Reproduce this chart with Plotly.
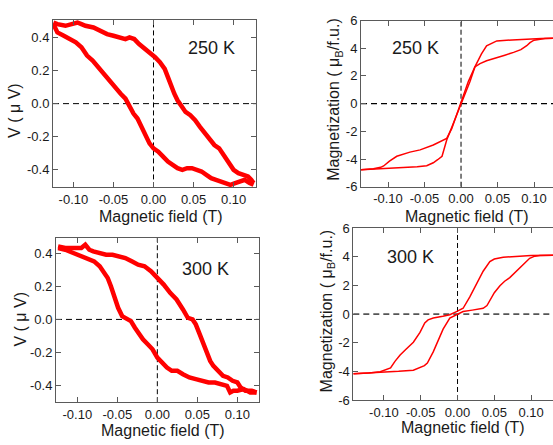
import plotly.graph_objects as go

W, H = 553, 445

# ---------------- data ----------------
# Panel A: 250 K, V (uV) vs H (T)
h250v_up = [-0.125, -0.12, -0.11, -0.10, -0.095, -0.09, -0.085, -0.075, -0.066, -0.058, -0.050, -0.042,
            -0.035, -0.030, -0.024, -0.018, -0.010, -0.004, 0.002, 0.008, 0.014, 0.018, 0.022, 0.026,
            0.030, 0.034, 0.040, 0.046, 0.052, 0.058, 0.064, 0.070, 0.076, 0.082, 0.088, 0.094, 0.100,
            0.106, 0.112, 0.118, 0.122, 0.125]
v250_up = [0.49, 0.48, 0.47, 0.48, 0.49, 0.48, 0.47, 0.46, 0.44, 0.42, 0.41, 0.40,
           0.39, 0.40, 0.39, 0.36, 0.33, 0.31, 0.28, 0.25, 0.21, 0.16, 0.10, 0.06,
           0.02, -0.01, -0.05, -0.07, -0.10, -0.14, -0.18, -0.22, -0.25, -0.27, -0.31, -0.36, -0.40,
           -0.42, -0.43, -0.44, -0.46, -0.48]
h250v_dn = [-0.125, -0.12, -0.112, -0.104, -0.097, -0.09, -0.083, -0.076, -0.069, -0.062, -0.055, -0.048,
            -0.041, -0.035, -0.030, -0.025, -0.020, -0.015, -0.010, -0.005, 0.000, 0.006, 0.012, 0.018,
            0.024, 0.030, 0.036, 0.042, 0.048, 0.054, 0.060, 0.066, 0.072, 0.078, 0.084, 0.090, 0.096,
            0.102, 0.108, 0.114, 0.120, 0.125]
v250_dn = [0.48, 0.43, 0.41, 0.39, 0.37, 0.34, 0.29, 0.26, 0.22, 0.18, 0.13, 0.09,
           0.06, 0.03, -0.02, -0.06, -0.09, -0.14, -0.20, -0.24, -0.27, -0.29, -0.32, -0.35,
           -0.37, -0.39, -0.40, -0.39, -0.39, -0.40, -0.41, -0.43, -0.45, -0.46, -0.47, -0.48, -0.49,
           -0.48, -0.47, -0.46, -0.48, -0.49]

# Panel C: 300 K, V (uV) vs H (T)
h300v_up = [-0.124, -0.115, -0.105, -0.095, -0.090, -0.085, -0.080, -0.072, -0.064, -0.056, -0.048,
            -0.040, -0.032, -0.024, -0.016, -0.008, 0.000, 0.008, 0.016, 0.024, 0.032, 0.038, 0.044,
            0.048, 0.053, 0.058, 0.062, 0.066, 0.070, 0.076, 0.082, 0.088, 0.094, 0.100, 0.104, 0.110,
            0.118, 0.124]
v300_up = [0.44, 0.43, 0.43, 0.43, 0.45, 0.42, 0.41, 0.40, 0.39, 0.39, 0.38,
           0.37, 0.35, 0.33, 0.32, 0.29, 0.25, 0.21, 0.16, 0.12, 0.06, 0.01, 0.00,
           -0.03, -0.09, -0.15, -0.21, -0.25, -0.28, -0.31, -0.34, -0.35, -0.37, -0.38, -0.41, -0.43,
           -0.43, -0.44]
h300v_dn = [-0.124, -0.115, -0.105, -0.095, -0.087, -0.079, -0.072, -0.066, -0.062, -0.058, -0.054,
            -0.049, -0.044, -0.038, -0.033, -0.028, -0.022, -0.018, -0.012, -0.006, 0.000, 0.006,
            0.012, 0.018, 0.025, 0.032, 0.040, 0.048, 0.056, 0.064, 0.072, 0.080, 0.087, 0.091,
            0.095, 0.100, 0.108, 0.116, 0.124]
v300_dn = [0.43, 0.42, 0.40, 0.38, 0.36, 0.35, 0.32, 0.28, 0.25, 0.20, 0.14,
           0.07, 0.02, 0.00, -0.01, -0.05, -0.10, -0.12, -0.15, -0.18, -0.23, -0.26,
           -0.29, -0.31, -0.31, -0.33, -0.35, -0.36, -0.37, -0.38, -0.38, -0.39, -0.40, -0.44,
           -0.43, -0.43, -0.42, -0.44, -0.44]

# Panel B: 250 K, magnetization (muB/f.u.) vs H (T)
h250m_asc = [-0.137, -0.12, -0.11, -0.10, -0.08, -0.06, -0.047, -0.038, -0.032, -0.026, -0.0196,
             -0.0105, -0.0014, 0.0032, 0.0123, 0.019, 0.026, 0.035, 0.049, 0.060, 0.072, 0.082, 0.09,
             0.0945, 0.100, 0.106, 0.115, 0.126]
m250_asc = [-4.77, -4.73, -4.70, -4.66, -4.62, -4.56, -4.48, -4.27, -4.05, -3.8, -2.63,
            -1.46, -0.28, 0.3, 1.59, 2.65, 2.89, 3.1, 3.35, 3.5, 3.7, 3.9, 4.18,
            4.4, 4.58, 4.65, 4.70, 4.72]
h250m_dsc = [-0.137, -0.12, -0.11, -0.106, -0.098, -0.088, -0.07, -0.056, -0.038, -0.0196, -0.0127,
             -0.0037, 0.001, 0.010, 0.019, 0.028, 0.035, 0.049, 0.07, 0.0945, 0.11, 0.126]
m250_dsc = [-4.77, -4.70, -4.6, -4.5, -4.15, -3.8, -3.5, -3.34, -2.99, -2.51, -1.81,
            -0.52, 0.18, 1.59, 2.65, 3.59, 4.18, 4.53, 4.6, 4.69, 4.71, 4.72]

# Panel D: 300 K, magnetization (muB/f.u.) vs H (T)
h300m_dsc = [-0.1416, -0.12, -0.105, -0.097, -0.091, -0.085, -0.078, -0.070, -0.060, -0.051, -0.0445,
             -0.040, -0.033, -0.020, -0.0105, -0.0014, 0.0076, 0.0167, 0.0258, 0.0348, 0.0439, 0.050,
             0.062, 0.080, 0.10, 0.1297]
m300_dsc = [-4.17, -4.12, -4.03, -3.9, -3.76, -3.3, -2.86, -2.45, -1.96, -1.28, -0.61,
            -0.40, -0.27, -0.15, -0.04, 0.18, 0.41, 1.2, 2.09, 3.0, 3.67, 3.85,
            3.98, 4.05, 4.10, 4.12]
h300m_asc = [-0.1416, -0.12, -0.10, -0.08, -0.06, -0.051, -0.045, -0.041, -0.033, -0.0196, -0.0105,
             -0.0014, 0.0076, 0.020, 0.0348, 0.040, 0.044, 0.050, 0.0576, 0.064, 0.071, 0.0848, 0.098,
             0.105, 0.112, 0.1297]
m300_asc = [-4.17, -4.12, -4.07, -4.0, -3.92, -3.76, -3.6, -3.42, -2.64, -1.05, -0.27,
            -0.04, 0.18, 0.28, 0.41, 0.6, 0.97, 1.5, 1.99, 2.3, 2.55, 3.22, 3.9,
            4.05, 4.10, 4.12]

# tick labels
h_ticks = [-0.10, -0.05, 0.00, 0.05, 0.10]
h_ticktext = ["-0.10", "-0.05", "0.00", "0.05", "0.10"]
v_ticks = [-0.4, -0.2, 0.0, 0.2, 0.4]
v_ticktext = ["-0.4", "-0.2", "0.0", "0.2", "0.4"]
m_ticks = [-6, -4, -2, 0, 2, 4, 6]
m_ticktext = ["-6", "-4", "-2", "0", "2", "4", "6"]

# ---------------- figure ----------------
RED = "#ff0000"
AX = "#5a5a5a"
TXT = "#1a1a1a"
FONT = "Liberation Sans, Arial, sans-serif"


def px_x(x):
    return x / W


def px_y(y):
    return 1 - y / H


fig = go.Figure()

traces = [
    (h250v_up, v250_up, "x", "y", 4.5),
    (h250v_dn, v250_dn, "x", "y", 4.5),
    (h250m_asc, m250_asc, "x2", "y2", 1.5),
    (h250m_dsc, m250_dsc, "x2", "y2", 1.5),
    (h300v_up, v300_up, "x3", "y3", 4.5),
    (h300v_dn, v300_dn, "x3", "y3", 4.5),
    (h300m_asc, m300_asc, "x4", "y4", 1.5),
    (h300m_dsc, m300_dsc, "x4", "y4", 1.5),
]
for xs, ys, xa, ya, lw in traces:
    fig.add_trace(go.Scatter(x=xs, y=ys, xaxis=xa, yaxis=ya, mode="lines",
                             line=dict(color=RED, width=lw), showlegend=False,
                             hoverinfo="skip"))

def xaxis(domain, rng, anchor):
    return dict(domain=domain, range=rng, anchor=anchor, showline=True, linecolor=AX,
                linewidth=1, mirror="ticks", ticks="inside", ticklen=5, tickcolor=AX,
                tickvals=h_ticks, ticktext=h_ticktext, showgrid=False, zeroline=False,
                tickfont=dict(size=13, color=TXT, family=FONT))


def yaxis(domain, rng, anchor, tv, tt, mirror):
    return dict(domain=domain, range=rng, anchor=anchor, showline=True, linecolor=AX,
                linewidth=1, mirror=mirror, ticks="inside", ticklen=5, tickcolor=AX,
                tickvals=tv, ticktext=tt, showgrid=False, zeroline=False,
                tickfont=dict(size=13, color=TXT, family=FONT))


fig.update_layout(
    width=W, height=H,
    margin=dict(l=0, r=0, t=0, b=0),
    paper_bgcolor="white", plot_bgcolor="white",
    font=dict(family=FONT, color=TXT),
    xaxis=xaxis([px_x(53), px_x(256)], [-0.1255, 0.128], "y"),
    yaxis=yaxis([px_y(186.7), px_y(13.3)], [-0.506, 0.506], "x", v_ticks, v_ticktext, "ticks"),
    xaxis2=xaxis([px_x(361), 1.0], [-0.137, 0.126], "y2"),
    yaxis2=yaxis([px_y(186), px_y(14)], [-6, 6], "x2", m_ticks, m_ticktext, False),
    xaxis3=xaxis([px_x(56), px_x(259)], [-0.1266, 0.127], "y3"),
    yaxis3=yaxis([px_y(409), px_y(239)], [-0.499, 0.491], "x3", v_ticks, v_ticktext, "ticks"),
    xaxis4=xaxis([px_x(353.3), 1.0], [-0.1416, 0.1297], "y4"),
    yaxis4=yaxis([px_y(406.7), px_y(229)], [-6, 6], "x4", m_ticks, m_ticktext, False),
)

# dashed zero lines
for xa, ya, hcol, hw in [("x", "y", "black", 1), ("x2", "y2", "black", 1.2),
                         ("x3", "y3", "black", 1), ("x4", "y4", "#555555", 1.8)]:
    fig.add_shape(type="line", xref=xa, yref=ya + " domain", x0=0, x1=0, y0=0, y1=1,
                  line=dict(color="black", width=1, dash="5px,3px"), layer="below")
    fig.add_shape(type="line", xref=xa + " domain", yref=ya, x0=0, x1=1, y0=0, y1=0,
                  line=dict(color=hcol, width=hw, dash="6px,4px"), layer="below")

# temperature labels
for txt, x, y in [("250 K", 211.7, 42.7), ("250 K", 415, 42), ("300 K", 205, 270.7), ("300 K", 410, 259)]:
    fig.add_annotation(text=txt, x=px_x(x), y=px_y(y), xref="paper", yref="paper",
                       showarrow=False, xanchor="center", yanchor="middle",
                       font=dict(size=18, color=TXT, family=FONT))

# axis titles
for txt, x, y in [("Magnetic field (T)", 161, 217), ("Magnetic field (T)", 467, 217),
                  ("Magnetic field (T)", 163, 438), ("Magnetic field (T)", 463, 435)]:
    fig.add_annotation(text=txt, x=px_x(x), y=px_y(y), xref="paper", yref="paper",
                       showarrow=False, xanchor="center", yanchor="middle",
                       font=dict(size=16, color=TXT, family=FONT))

for txt, x, y in [("V ( μ V)", 15, 107.5), ("Magnetization ( μ<sub>B</sub>/f.u.)", 335, 96),
                  ("V ( μ V)", 20.7, 322.7), ("Magnetization ( μ<sub>B</sub>/f.u.)", 327, 315)]:
    fig.add_annotation(text=txt, x=px_x(x), y=px_y(y), xref="paper", yref="paper",
                       showarrow=False, xanchor="center", yanchor="middle", textangle=-90,
                       font=dict(size=16, color=TXT, family=FONT))

fig.write_html("out.html", config={"displayModeBar": False},
               post_script="document.body.style.margin='0';")
